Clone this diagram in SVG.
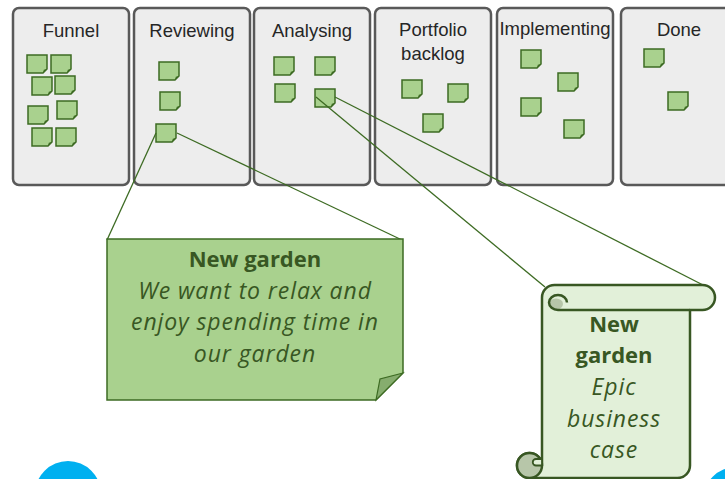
<svg xmlns="http://www.w3.org/2000/svg" xmlns:xlink="http://www.w3.org/1999/xlink" width="725" height="479" viewBox="0 0 725 479">
<style>
.col{fill:#ededed;stroke:#595959;stroke-width:2.5}
.ttl{font-family:"Liberation Sans",Arial,sans-serif;font-size:18.5px;fill:#262626;text-anchor:middle}
.sn{fill:#a9d18e;stroke:#3d6b23;stroke-width:1.5}
.fold{fill:#3d6b23}
.con{stroke:#3d6b23;stroke-width:1.3;fill:none}
.big{font-family:"Open Sans","Liberation Sans",sans-serif;font-size:22px;fill:#385723;text-anchor:middle}
.b{font-weight:bold}
.i{font-style:italic;font-size:23px;letter-spacing:0.9px}
.blue{fill:#00b0f0}
</style>
<defs>
<g id="note"><path class="sn" d="M0,0H20V14L16,18H0Z"/><path class="fold" d="M20,14L16,18L16.8,14.8Z"/></g>
</defs>
<g id="col-funnel">
<rect class="col" x="13" y="8" width="116" height="177" rx="6"/>
<text class="ttl" x="71" y="37">Funnel</text>
<use xlink:href="#note" x="27" y="55"/><use xlink:href="#note" x="51" y="55"/>
<use xlink:href="#note" x="32" y="77"/><use xlink:href="#note" x="55" y="76"/>
<use xlink:href="#note" x="28" y="106"/><use xlink:href="#note" x="57" y="101"/>
<use xlink:href="#note" x="32" y="128"/><use xlink:href="#note" x="56" y="128"/>
</g>
<g id="col-reviewing">
<rect class="col" x="134" y="8" width="116" height="177" rx="6"/>
<text class="ttl" x="192" y="37">Reviewing</text>
<use xlink:href="#note" x="159" y="62"/><use xlink:href="#note" x="160" y="92"/><use xlink:href="#note" x="156" y="124"/>
</g>
<g id="col-analysing">
<rect class="col" x="254" y="8" width="116" height="177" rx="6"/>
<text class="ttl" x="312" y="37">Analysing</text>
<use xlink:href="#note" x="274" y="57"/><use xlink:href="#note" x="315" y="57"/>
<use xlink:href="#note" x="275" y="84"/><use xlink:href="#note" x="315" y="89"/>
</g>
<g id="col-portfolio">
<rect class="col" x="375" y="8" width="116" height="177" rx="6"/>
<text class="ttl" x="433" y="36">Portfolio</text>
<text class="ttl" x="433" y="60">backlog</text>
<use xlink:href="#note" x="402" y="80"/><use xlink:href="#note" x="448" y="84"/><use xlink:href="#note" x="423" y="114"/>
</g>
<g id="col-implementing">
<rect class="col" x="497" y="8" width="116" height="177" rx="6"/>
<text class="ttl" x="555" y="35">Implementing</text>
<use xlink:href="#note" x="521" y="50"/><use xlink:href="#note" x="558" y="73"/>
<use xlink:href="#note" x="521" y="98"/><use xlink:href="#note" x="564" y="120"/>
</g>
<g id="col-done">
<rect class="col" x="621" y="8" width="116" height="177" rx="6"/>
<text class="ttl" x="679" y="36">Done</text>
<use xlink:href="#note" x="644" y="49"/><use xlink:href="#note" x="668" y="92"/>
</g>
<g id="connectors">
<line class="con" x1="156" y1="133" x2="107" y2="240"/>
<line class="con" x1="177" y1="133" x2="402" y2="240"/>
<line class="con" x1="316" y1="97" x2="545" y2="287"/>
<line class="con" x1="335" y1="97" x2="703" y2="285"/>
</g>
<g id="feature-note">
<path d="M107,239H403V373L376,400H107Z" fill="#a9d18e" stroke="#3d6b23" stroke-width="1.5"/>
<path d="M403,373L380,379L376,400Z" fill="#86ad6e" stroke="#3d6b23" stroke-width="1.2"/>
<text class="big b" x="255" y="267">New garden</text>
<text class="big i" x="255" y="299">We want to relax and</text>
<text class="big i" x="255" y="330">enjoy spending time in</text>
<text class="big i" x="255" y="362">our garden</text>
</g>
<g id="epic-scroll">
<path d="M542,297.5A12.5,12.5 0 0 1 554.5,285H702.5A12.5,12.5 0 0 1 702.5,310H690V465.5A12.5,12.5 0 0 1 677.5,478H529.5A12.5,12.5 0 1 1 542,465.5Z" fill="#e2f0d9" stroke="#385723" stroke-width="2.5" stroke-linejoin="round"/>
<circle cx="529.5" cy="465.5" r="12.5" fill="#b7c6a9" stroke="#385723" stroke-width="2.5"/>
<path d="M542,459H536A3,3 0 0 0 536,465.5H542Z" fill="#e2f0d9" stroke="#385723" stroke-width="1.8"/>
<ellipse cx="556" cy="304" rx="7" ry="5.5" fill="#b7c6a9"/>
<path d="M690,310H558A9,7.5 0 1 1 567,302.5" fill="none" stroke="#385723" stroke-width="2.5"/>
<text class="big b" x="614" y="332">New</text>
<text class="big b" x="614" y="363">garden</text>
<text class="big i" x="614" y="395">Epic</text>
<text class="big i" x="614" y="427">business</text>
<text class="big i" x="614" y="458">case</text>
</g>
<circle class="blue" cx="68" cy="494" r="33"/>
<circle class="blue" cx="736" cy="500" r="33"/>
</svg>
